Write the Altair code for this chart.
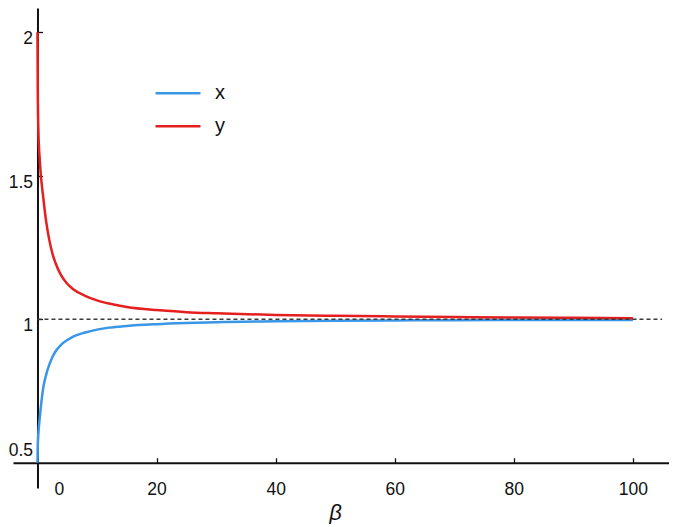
import altair as alt
import pandas as pd

# ---- data ----
beta = [0, 0.05, 0.15, 0.4, 1, 1.5, 2, 2.5, 3, 4, 5, 6, 8, 10, 12, 15, 20, 25, 30, 40, 50, 60, 70, 80, 90, 100]
x_vals = [0.5, 0.56, 0.6, 0.66, 0.765, 0.81, 0.843, 0.868, 0.887, 0.912, 0.928, 0.94, 0.954, 0.964, 0.971,
          0.977, 0.983, 0.987, 0.990, 0.993, 0.995, 0.996, 0.997, 0.9975, 0.998, 0.998]
y_vals = [2.0, 1.8, 1.66, 1.55, 1.42, 1.335, 1.275, 1.23, 1.198, 1.152, 1.124, 1.105, 1.082, 1.066, 1.055,
          1.043, 1.032, 1.025, 1.021, 1.015, 1.012, 1.010, 1.008, 1.006, 1.005, 1.004]
series_names = ["x", "y"]
series_colors = ["#3a96e6", "#e51f1f"]

ref_beta = [0, 104.9]
ref_value = [1, 1]

x_tick_labels = [0, 20, 40, 60, 80, 100]
x_minor_ticks = [20, 40, 60, 80, 100]
y_tick_labels = [0.5, 1, 1.5, 2]
y_minor_ticks = [1, 1.5, 2]

# ---- layout constants ----
W, H = 656, 480
XMIN, XMAX = -4.11, 106.06
YMIN, YMAX = 0.4122, 2.0847
X_ORIGIN, Y_ORIGIN = 0, 0.5
FONT = "Liberation Sans"
INK = "#111111"

x0_px = W * (X_ORIGIN - XMIN) / (XMAX - XMIN)
y0_px = H * (YMAX - Y_ORIGIN) / (YMAX - YMIN)

df = pd.DataFrame({
    "beta": beta + beta,
    "value": x_vals + y_vals,
    "series": [series_names[0]] * len(beta) + [series_names[1]] * len(beta),
})
ref = pd.DataFrame({"beta": ref_beta, "value": ref_value})

xscale = alt.Scale(domain=[XMIN, XMAX], nice=False, zero=False)
yscale = alt.Scale(domain=[YMIN, YMAX], nice=False, zero=False)

x_axis = alt.Axis(
    orient="bottom", offset=-(H - y0_px), values=x_tick_labels, format="d",
    ticks=False, tickSize=0, domainColor=INK, domainWidth=2, grid=False,
    labelFont=FONT, labelFontSize=17.5, labelColor=INK, labelPadding=18,
    labelFlush=False, labelOverlap=False,
    labelOffset={"condition": {"test": "datum.value == 0", "value": 21.5}, "value": 0},
    title="β", titleFont=FONT, titleFontStyle="italic", titleFontWeight="normal",
    titleFontSize=22, titleColor=INK, titleX=322, titleY=49.7, titleBaseline="middle",
    titleAlign="center",
)
y_axis = alt.Axis(
    orient="left", offset=-x0_px, values=y_tick_labels, format="~g",
    ticks=False, tickSize=0, domainColor=INK, domainWidth=2, grid=False,
    labelFont=FONT, labelFontSize=17.5, labelColor=INK, labelPadding=5,
    labelFlush=False, labelOverlap=False,
    labelOffset={"condition": {"test": "datum.value == 0.5", "value": -12}, "value": 6.5},
    title=None,
)
x_tick_axis = alt.Axis(
    orient="top", offset=-y0_px, values=x_minor_ticks, domain=False, labels=False,
    ticks=True, tickSize=5, tickWidth=1.3, tickColor=INK, grid=False, title=None,
)
y_tick_axis = alt.Axis(
    orient="right", offset=-(W - x0_px), values=y_minor_ticks, domain=False, labels=False,
    ticks=True, tickSize=5, tickWidth=1.3, tickColor=INK, grid=False, title=None,
)

legend = alt.Legend(
    orient="none", legendX=141, legendY=68.8, title=None,
    symbolType="stroke", symbolSize=2025, symbolStrokeWidth=2.5,
    labelFont=FONT, labelFontSize=20, labelColor=INK, labelOffset=13,
    clipHeight=33, rowPadding=0, padding=0,
)

curves = alt.Chart(df).mark_line(strokeWidth=2.5, interpolate="monotone").encode(
    x=alt.X("beta:Q", scale=xscale, axis=x_axis),
    y=alt.Y("value:Q", scale=yscale, axis=y_axis),
    color=alt.Color("series:N", scale=alt.Scale(domain=series_names, range=series_colors), legend=legend),
)

ref_line = alt.Chart(ref).mark_line(color="#3a3a3a", strokeWidth=1.4, strokeDash=[4, 3]).encode(
    x=alt.X("beta:Q", scale=xscale, axis=x_tick_axis),
    y=alt.Y("value:Q", scale=yscale, axis=y_tick_axis),
)

chart = alt.layer(curves, ref_line).resolve_axis(
    x="independent", y="independent"
).properties(
    width=W, height=H,
    padding={"left": 5, "top": 0, "right": 0, "bottom": 36},
    autosize="none",
    background="white",
).configure_view(stroke=None)

chart.save("out.html", embed_options={"renderer": "svg", "actions": False})
